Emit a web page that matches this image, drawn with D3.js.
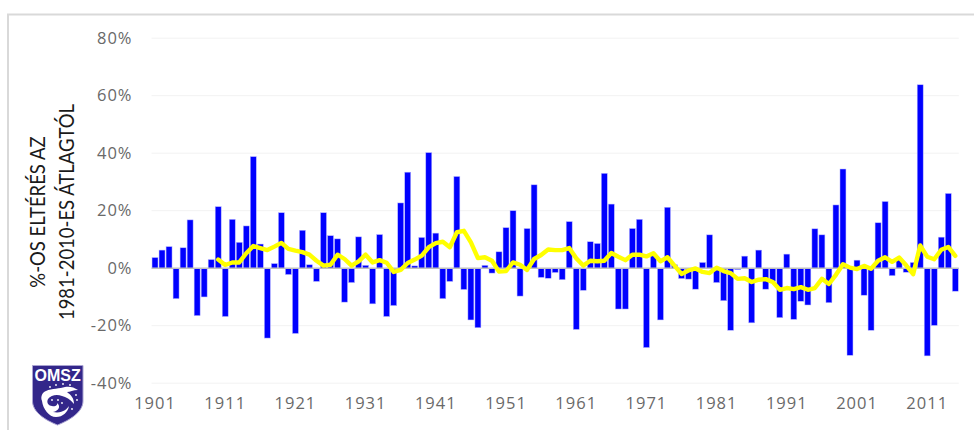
<!DOCTYPE html>
<html><head><meta charset="utf-8">
<script src="https://cdn.jsdelivr.net/npm/d3@7"></script>
<style>
html,body{margin:0;padding:0;background:#fff;overflow:hidden}
svg{display:block}
.tick-label{font-family:"Open Sans",sans-serif;font-size:16.5px;letter-spacing:1px;fill:#696969}
.title{font-family:Lato,sans-serif;font-size:21.5px;fill:#1a1a1a}
</style></head><body>
<svg id="c" width="974" height="430"></svg>
<script>
const startYear = 1901;
const anomalies = [3.7,6.3,7.5,-10.6,7.1,16.8,-16.5,-10,3,21.4,
-16.8,17,9,14.7,38.8,8.4,-24.3,1.6,19.3,-2.2,
-22.7,13.2,1.2,-4.6,19.3,11.3,10.2,-11.8,-5,10.9,
1,-12.4,11.7,-16.8,-13,22.7,33.4,0.8,10.7,40.2,
12.2,-10.6,-4.6,31.9,-7.4,-18,-20.7,1,-1.7,5.7,
14.1,20,-9.7,13.8,29,-3.2,-3.5,-1.5,-4,16.2,
-21.3,-7.7,9.2,8.6,33,22.3,-14.2,-14.2,13.8,17,
-27.6,4.3,-18,21.2,1.2,-3.6,-3.8,-7.3,2,11.6,
-5,-11.3,-21.6,-0.5,4.2,-19,6.3,-7.3,-4.5,-17.2,
4.9,-17.8,-11.5,-12.8,13.7,11.6,-12,22,34.5,-30.3,
2.8,-9.4,-21.6,15.8,23.2,-2.6,2.9,-1.4,2,63.8,
-30.5,-19.9,10.8,26,-8];
const trendStart = 1910;
const trend = [3,1.1,2,2,5.2,7.7,7,6.3,7.5,8.8,
6.7,6.1,5.6,4.7,2.6,0.9,1.2,4.7,3.2,0.9,
2.4,4.7,2,2.8,1.9,-1.3,-0.6,1.8,3,4.4,
7.3,8.7,9.2,7.3,12.5,13,9,3.5,3.8,2.6,
-1.2,-1,2,1.2,-0.6,3.2,4.6,6.5,6.3,6.3,
7,3.5,0.9,2.6,2.4,2.6,5.3,4,2.8,4.7,
4.7,4.1,5.2,2.4,3.8,0.9,-2,-0.8,-0.1,-1.3,
-1.7,0.2,-1,-1.7,-3.7,-3.5,-4.8,-4,-3.8,-4.8,
-7.5,-6.9,-7.3,-6.6,-7.5,-6.9,-3.7,-5.5,-2.3,1.4,
0.2,-0.3,0.8,-0.2,2.6,3.8,2.2,3.7,1,-2.1,
7.9,4,3.1,6.4,7.4,4.3];
const yTicks = [-40,-20,0,20,40,60,80];
const xTickYears = [1901,1911,1921,1931,1941,1951,1961,1971,1981,1991,2001,2011];
const titleLines = ["%-OS ELTÉRÉS AZ","1981-2010-ES ÁTLAGTÓL"];
const logoText = "OMSZ";

const years = anomalies.map((_,i)=>startYear+i);
const svg = d3.select("#c");
const x = d3.scaleBand().domain(years).range([151.5,958.8]).paddingInner(0.15).paddingOuter(0.075);
const y = d3.scaleLinear().domain([-40,80]).range([383.2,38.2]);
const cx = d => x(d)+x.bandwidth()/2;

// frame
svg.append("path").attr("d","M8,430V14.5H974").attr("fill","none").attr("stroke","#d9d9d9").attr("stroke-width",2);

// grid
svg.append("g").selectAll("line").data(yTicks.filter(d=>d!==0)).join("line")
 .attr("x1",151.5).attr("x2",958.8).attr("y1",d=>y(d)).attr("y2",d=>y(d))
 .attr("stroke","#f2f2f2").attr("stroke-width",1);

// bars
svg.append("g").selectAll("rect").data(years).join("rect")
 .attr("x",d=>x(d)).attr("width",x.bandwidth())
 .attr("y",(d,i)=>y(Math.max(0,anomalies[i])))
 .attr("height",(d,i)=>Math.abs(y(anomalies[i])-y(0)))
 .attr("fill","#0000ff").attr("stroke","#b9b9ff").attr("stroke-width",.5);

// zero line
svg.append("line").attr("x1",151.5).attr("x2",958.8).attr("y1",y(0)).attr("y2",y(0))
 .attr("stroke","#bfbfbf").attr("stroke-width",1.4);

// trend
const line = d3.line().x((d,i)=>cx(trendStart+i)).y(d=>y(d));
svg.append("path").attr("d",line(trend)).attr("fill","none").attr("stroke","#ffff00")
 .attr("stroke-width",4.4).attr("stroke-linejoin","round").attr("stroke-linecap","round");

// y labels
svg.append("g").selectAll("text").data(yTicks).join("text").attr("class","tick-label")
 .attr("x",132.5).attr("y",d=>y(d)).attr("dy","0.35em").attr("text-anchor","end").text(d=>d+"%");

// x labels
svg.append("g").selectAll("text").data(xTickYears).join("text").attr("class","tick-label")
 .attr("x",d=>cx(d)).attr("y",403).attr("dy","0.35em").attr("text-anchor","middle").text(d=>d);

// axis title
[[45,0],[74,1]].forEach(([tx,i])=>{
 svg.append("text").attr("class","title").attr("text-anchor","middle")
  .attr("transform",`translate(${tx},212) rotate(-90) scale(0.86,1)`).text(titleLines[i]);
});

// logo
const logo = svg.append("g").attr("transform","translate(32,365)");
logo.append("path").attr("d","M0.5,0.5H51V36C51,47 38,55 25.5,60C13,55 0.5,47 0.5,36Z")
 .attr("fill","#33278a").attr("stroke","#a9a3d2").attr("stroke-width",1);
logo.append("text").attr("x",25.7).attr("y",15.5).attr("text-anchor","middle")
 .attr("font-family","Liberation Sans").attr("font-weight","700").attr("font-size",16)
 .attr("fill","#fff").text(logoText);
logo.append("path").attr("fill","#fff")
 .attr("d","M10,36C8,31 11,27 14,26C20,23 28,24 33,22C37,21 42,22 46,25C41,25 38,27 35,27C39,30 42,33 42,39C38,34 34,32 30,31C25,29 19,30 16,34C14,38 17,41 20,41C23,42 26,40 25,38C29,41 27,46 21,47C30,49 35,44 37,41C36,47 31,52 24,52C17,52 11,44 10,36Z");
logo.append("g").attr("fill","#fff").selectAll("circle")
 .data([[18,22],[24,20],[31,19],[38,20],[44,30],[45,35],[40,44],[20,35],[26,35],[30,38]]).join("circle")
 .attr("cx",d=>d[0]).attr("cy",d=>d[1]).attr("r",.9);
</script></body></html>
